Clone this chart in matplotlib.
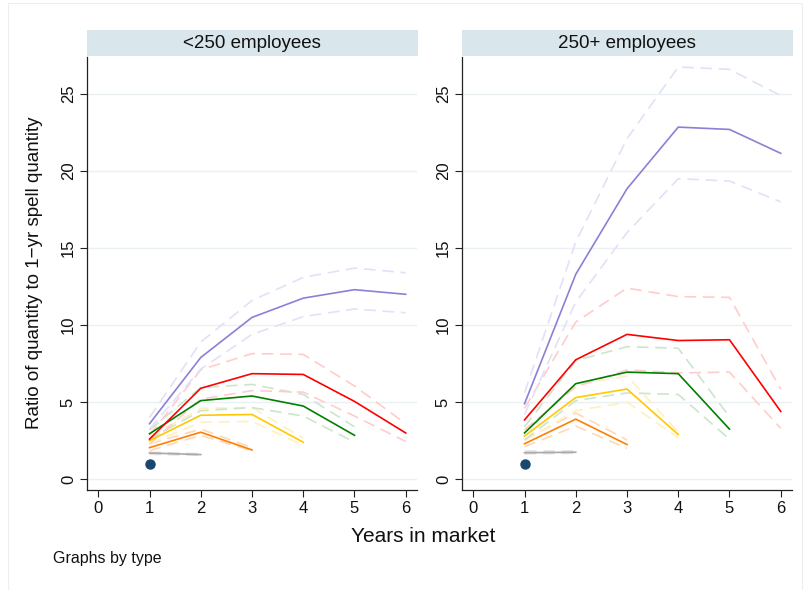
import matplotlib
matplotlib.use("Agg")
import matplotlib.pyplot as plt
from matplotlib.patches import Rectangle

plt.rcParams['font.family'] = ['Liberation Sans', 'DejaVu Sans']

years = [1, 2, 3, 4, 5, 6]
panel_titles = ["<250 employees", "250+ employees"]

# ---- <250 employees ----
s_purple = [3.6, 7.9, 10.5, 11.75, 12.3, 12.0]
s_purple_hi = [4.0, 8.9, 11.6, 13.1, 13.7, 13.4]
s_purple_lo = [3.25, 7.15, 9.4, 10.55, 11.05, 10.8]
s_red = [2.6, 5.9, 6.85, 6.8, 5.05, 3.0]
s_red_hi = [2.85, 7.1, 8.15, 8.1, 6.05, 3.6]
s_red_lo = [2.3, 5.2, 5.75, 5.65, 4.1, 2.45]
s_green = [2.95, 5.1, 5.4, 4.75, 2.85]
s_green_hi = [3.2, 5.95, 6.15, 5.5, 3.4]
s_green_lo = [2.6, 4.45, 4.65, 4.1, 2.4]
s_yellow = [2.5, 4.15, 4.2, 2.4]
s_yellow_hi = [2.75, 4.6, 4.65, 2.65]
s_yellow_lo = [2.3, 3.7, 3.75, 2.2]
s_orange = [2.05, 3.05, 1.9]
s_orange_hi = [2.3, 3.25, 2.05]
s_orange_lo = [1.85, 2.85, 1.85]
s_gray = [1.7, 1.6]
s_gray_hi = [1.75, 1.65]
s_gray_lo = [1.62, 1.55]
s_dot = [1.0]

# ---- 250+ employees ----
l_purple = [4.9, 13.3, 18.85, 22.85, 22.7, 21.15]
l_purple_hi = [5.6, 15.4, 22.1, 26.75, 26.6, 24.9]
l_purple_lo = [4.2, 11.5, 16.0, 19.5, 19.35, 18.0]
l_red = [3.85, 7.75, 9.4, 9.0, 9.05, 4.4]
l_red_hi = [4.6, 10.2, 12.4, 11.85, 11.8, 5.85]
l_red_lo = [3.2, 6.0, 7.1, 6.9, 6.95, 3.3]
l_green = [3.0, 6.2, 6.95, 6.85, 3.25]
l_green_hi = [3.4, 7.7, 8.6, 8.5, 4.05]
l_green_lo = [2.55, 5.1, 5.6, 5.5, 2.6]
l_yellow = [2.8, 5.3, 5.85, 2.9]
l_yellow_hi = [3.1, 6.1, 6.7, 3.05]
l_yellow_lo = [2.5, 4.45, 5.0, 2.7]
l_orange = [2.3, 3.9, 2.25]
l_orange_hi = [2.55, 4.3, 2.55]
l_orange_lo = [2.1, 3.45, 2.0]
l_gray = [1.72, 1.75]
l_gray_hi = [1.8, 1.8]
l_gray_lo = [1.65, 1.68]
l_dot = [1.0]

colors = {
    'purple': ('#8b80d6', '#e3e0f7'),
    'red': ('#ff0000', '#ffcccc'),
    'green': ('#008000', '#cce5cc'),
    'yellow': ('#ffc800', '#fff0bf'),
    'orange': ('#ff7f00', '#ffd8b8'),
    'gray': ('#a8a8a8', '#e2e2e2'),
}

panels = [
    {'purple': (s_purple, s_purple_hi, s_purple_lo),
     'red': (s_red, s_red_hi, s_red_lo),
     'green': (s_green, s_green_hi, s_green_lo),
     'yellow': (s_yellow, s_yellow_hi, s_yellow_lo),
     'orange': (s_orange, s_orange_hi, s_orange_lo),
     'gray': (s_gray, s_gray_hi, s_gray_lo),
     'dot': s_dot},
    {'purple': (l_purple, l_purple_hi, l_purple_lo),
     'red': (l_red, l_red_hi, l_red_lo),
     'green': (l_green, l_green_hi, l_green_lo),
     'yellow': (l_yellow, l_yellow_hi, l_yellow_lo),
     'orange': (l_orange, l_orange_hi, l_orange_lo),
     'gray': (l_gray, l_gray_hi, l_gray_lo),
     'dot': l_dot},
]

W, H = 808, 590
fig = plt.figure(figsize=(W / 100, H / 100), dpi=100)
fig.patch.set_facecolor('white')

# faint outer frame
fig.add_artist(Rectangle((8 / W, 0), (W - 14) / W, 1 - 3 / H, transform=fig.transFigure,
                         fill=False, edgecolor='#eeeeee', linewidth=0.8))

axes_px = [(87, 417), (462, 792)]
top_px, bot_px = 57, 490
for i, (x0, x1) in enumerate(axes_px):
    ax = fig.add_axes([x0 / W, 1 - bot_px / H, (x1 - x0) / W, (bot_px - top_px) / H])
    data = panels[i]
    order = ['gray', 'orange', 'yellow', 'green', 'red', 'purple']
    for key in order:
        mid, hi, lo = data[key]
        xs = years[:len(mid)]
        for band in (hi, lo):
            ax.plot(xs, band, color=colors[key][1], lw=1.2, dashes=(7, 4), zorder=2)
    for key in order:
        mid, hi, lo = data[key]
        xs = years[:len(mid)]
        ax.plot(xs, mid, color=colors[key][0], lw=1.2, zorder=3)
    ax.plot(years[:len(data['dot'])], data['dot'], 'o', color='#1a476f', ms=6.5, zorder=4)

    ax.set_xlim(-0.22, 6.22)
    ax.set_ylim(-0.7, 27.4)
    ax.set_xticks(range(0, 7))
    ax.set_yticks(range(0, 30, 5))
    ax.grid(axis='y', color='#e9f1f2', lw=1.0, zorder=0)
    ax.set_axisbelow(True)
    for s in ('top', 'right'):
        ax.spines[s].set_visible(False)
    for s in ('left', 'bottom'):
        ax.spines[s].set_color('#222222')
        ax.spines[s].set_linewidth(0.9)
    ax.tick_params(axis='both', direction='out', length=5, width=0.8, color='#222222',
                   labelsize=12, labelcolor='#111111', pad=3)
    for lab in ax.get_yticklabels():
        lab.set_rotation(90)
        lab.set_va('center')

    # strip title
    fig.add_artist(Rectangle((x0 / W, 1 - 56 / H), (x1 + 1 - x0) / W, 26 / H,
                             transform=fig.transFigure, facecolor='#d9e6eb',
                             edgecolor='none'))
    fig.text((x0 + x1) / 2 / W, 1 - 43 / H, panel_titles[i], ha='center', va='center',
             fontsize=13.5, color='#111111')

fig.text(35 / W, 1 - 273 / H, 'Ratio of quantity to 1\u2212yr spell quantity',
         rotation=90, ha='center', va='center', fontsize=13.5, color='#111111')
fig.text(423 / W, 1 - 537 / H, 'Years in market', ha='center', va='center',
         fontsize=15, color='#111111')
fig.text(53 / W, 1 - 558 / H, 'Graphs by type', ha='left', va='center',
         fontsize=11.5, color='#111111')

fig.savefig('out.png', dpi=100, facecolor='white')
